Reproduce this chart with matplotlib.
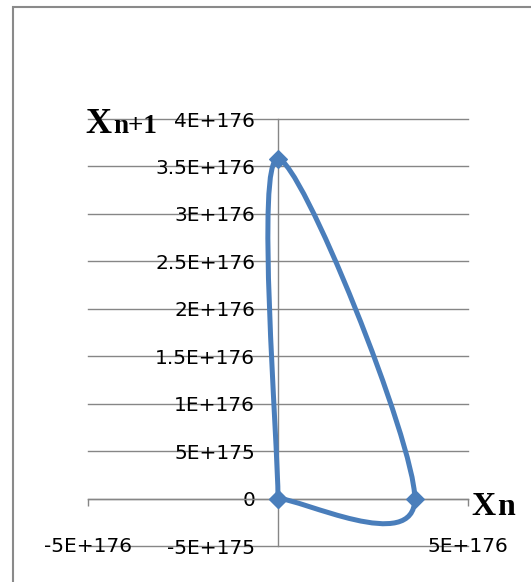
import numpy as np
import matplotlib.pyplot as plt
from matplotlib.path import Path
from matplotlib.patches import PathPatch, Rectangle

# iterates: x_n on the horizontal axis, x_(n+1) on the vertical axis
xn = [0, 0, 3.6e176, 0]
xn1 = [0, 3.58e176, 0, 0]

y_ticks = [-5e175, 0, 5e175, 1e176, 1.5e176, 2e176, 2.5e176, 3e176, 3.5e176, 4e176]
y_labels = ['-5E+175', '0', '5E+175', '1E+176', '1.5E+176', '2E+176',
            '2.5E+176', '3E+176', '3.5E+176', '4E+176']
x_ticks = [-5e176, 0, 5e176]
x_labels = ['-5E+176', '5E+176']

W, H = 531, 582
blue = '#4a7ebb'
grey = '#868686'

fig = plt.figure(figsize=(W / 100, H / 100), dpi=100)
ax = fig.add_axes([88 / W, 1 - 546 / H, 380 / W, 427 / H])

ax.set_xlim(-5e176, 5e176)
ax.set_ylim(-5e175, 4e176)

for s in ['top', 'right']:
    ax.spines[s].set_visible(False)
ax.spines['left'].set_position(('data', 0))
ax.spines['bottom'].set_position(('data', 0))
for s in ['left', 'bottom']:
    ax.spines[s].set_color(grey)
    ax.spines[s].set_linewidth(1.0)

ax.set_yticks(y_ticks, y_labels)
ax.tick_params(axis='y', length=0, pad=16.5, labelsize=14.5, labelcolor='black')
ax.set_xticks(x_ticks, [''] * len(x_ticks))
ax.tick_params(axis='x', direction='out', length=5, width=1.0, color=grey)

# horizontal gridlines, drawn unclipped so the edge ones show in full
for yv in y_ticks:
    ax.axhline(yv, color=grey, linewidth=1.0, clip_on=False, zorder=0.5)

for x, lab in zip([x_ticks[0], x_ticks[-1]], x_labels):
    ax.text(x, y_ticks[0], lab, ha='center', va='center', fontsize=14.5,
            clip_on=False)

# smoothed line through the points (cubic Bezier, Catmull-Rom style tangents)
pts = np.column_stack([xn, xn1])
n = len(pts)
verts = [pts[0]]
codes = [Path.MOVETO]
for i in range(n - 1):
    prev = pts[i - 1] if i > 0 else pts[i]
    nxt = pts[i + 2] if i + 2 < n else pts[i + 1]
    c1 = pts[i] + (pts[i + 1] - prev) / 6
    c2 = pts[i + 1] - (nxt - pts[i]) / 6
    verts += [c1, c2, pts[i + 1]]
    codes += [Path.CURVE4] * 3
ax.add_patch(PathPatch(Path(verts, codes), facecolor='none', edgecolor=blue,
                       linewidth=3.6, capstyle='round', joinstyle='round',
                       clip_on=False, zorder=3))
ax.plot(xn, xn1, linestyle='none', marker='D', markersize=9.5, color=blue,
        markeredgewidth=0.8, clip_on=False, zorder=4)

# axis titles
serif = 'Liberation Serif'
fig.text(85 / W, 1 - 133 / H, 'X', fontsize=26, fontweight='bold', family=serif)
fig.text(113 / W, 1 - 133 / H, 'n+1', fontsize=19.5, fontweight='bold', family=serif)
fig.text(471 / W, 1 - 515 / H, 'X', fontsize=24, fontweight='bold', family=serif)
fig.text(497 / W, 1 - 515 / H, 'n', fontsize=23, fontweight='bold', family=serif)

# chart area border
fig.add_artist(Rectangle((13 / W, -0.1), 2, 1.1 - 7 / H, transform=fig.transFigure,
                         fill=False, edgecolor='#8a8a8a', linewidth=1.5))

fig.savefig('out.png', dpi=100)
